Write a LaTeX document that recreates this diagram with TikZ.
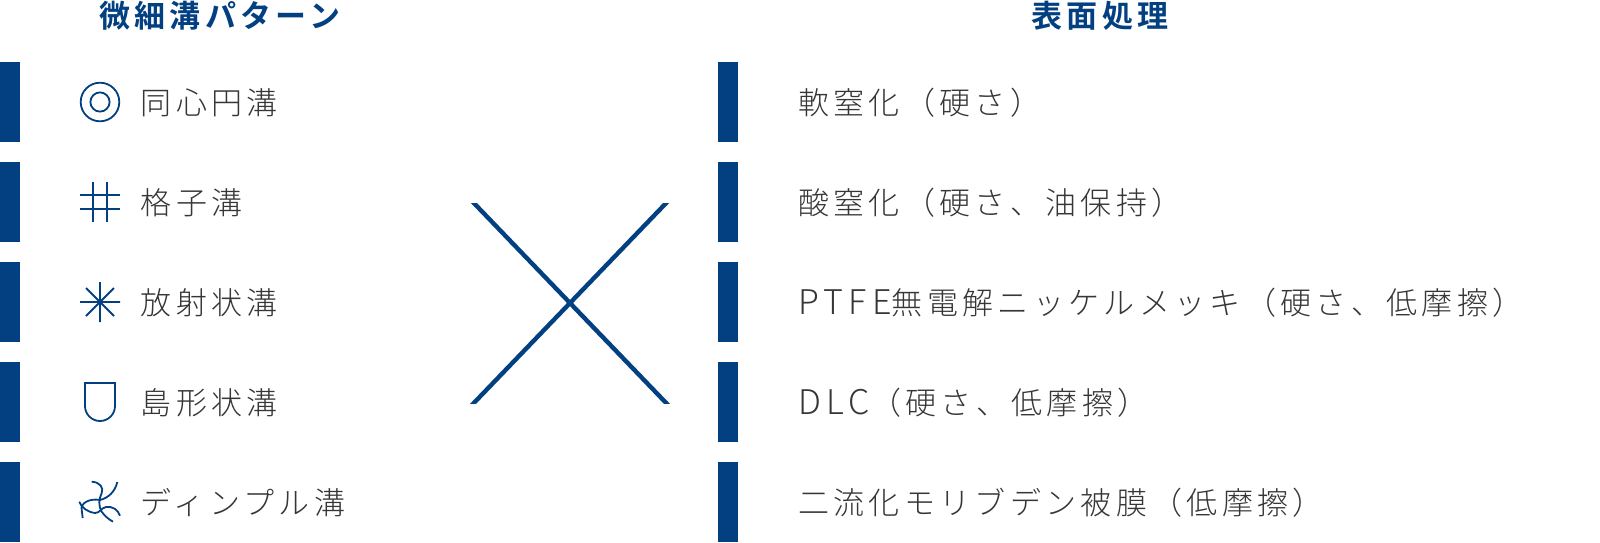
\documentclass[tikz,border=0pt]{standalone}
\usepackage{fontspec}
\setmainfont{Noto Sans CJK JP Light}[LetterSpace=14,BoldFont={Noto Sans CJK JP Bold}]
\newfontfamily\latinwide{Noto Sans CJK JP Light}[LetterSpace=16]
\newcommand{\latintext}[1]{{\latinwide\fontsize{34}{36}\selectfont #1}}
\definecolor{navy}{HTML}{024082}
\definecolor{ink}{HTML}{363636}
\tikzset{
 bar/.style={fill=navy,draw=none},
 label/.style={anchor=west,inner sep=0pt,text=ink,font=\fontsize{31}{33}\selectfont},
 head/.style={anchor=center,inner sep=0pt,text=navy,font=\fontsize{31}{33}\selectfont\bfseries},
 icon/.style={draw=navy,line width=1.8pt,fill=none},
 cross/.style={draw=navy,line width=4.4pt},
}
\begin{document}
\begin{tikzpicture}[x=1pt,y=-1pt]
\useasboundingbox (0,0) rectangle (1600,542);
\foreach \y in {62,162,262,362,462}{
  \fill[bar] (0,\y) rectangle (20,\y+80);
  \fill[bar] (718,\y) rectangle (738,\y+80);
}
\node[head] (h1) at (220,15.5) {微細溝パターン};
\node[head] (h2) at (1100,15.5) {表面処理};
\node[label] (l1) at (140.5,102.5) {同心円溝};
\node[label] (l2) at (140.5,202.5) {格子溝};
\node[label] (l3) at (140.5,302.5) {放射状溝};
\node[label] (l4) at (140.5,402.5) {島形状溝};
\node[label] (l5) at (140.5,502.5) {ディンプル溝};
\node[label] (r1) at (798,102.5) {軟窒化（硬さ）};
\node[label] (r2) at (798,202.5) {酸窒化（硬さ、油保持）};
\node[label] (r3) at (798,302.5) {\latintext{PTFE}無電解ニッケルメッキ（硬さ、低摩擦）};
\node[label] (r4) at (798,402.5) {\latintext{DLC}（硬さ、低摩擦）};
\node[label] (r5) at (798,502.5) {二流化モリブデン被膜（低摩擦）};
% icons
\draw[icon] (100,102) circle (19.3);
\draw[icon] (100,102) circle (9.6);
\draw[icon] (80,195) -- (120,195) (80,209) -- (120,209) (93,182) -- (93,222) (107,182) -- (107,222);
\draw[icon] (80,302) -- (120,302) (100,282) -- (100,322) (86,288) -- (114,316) (86,316) -- (114,288);
\draw[icon] (85,383) -- (115,383) -- (115,406) arc (0:180:15) -- cycle;
\draw[icon] (91.7,481.7) .. controls (100,482) and (104,488) .. (101.7,493) .. controls (99,499) and (98,505) .. (101.7,511.7) .. controls (104,515) and (108,519) .. (113,521.7);
\draw[icon] (117.3,482) .. controls (115,492) and (108,498) .. (100,500) .. controls (90,498) and (80,503) .. (81.7,510) -- (82.7,518);
\draw[icon] (79.3,501.7) .. controls (81,507) and (87,512) .. (95,513) .. controls (100,513) and (101,508) .. (106,507) .. controls (113,506) and (118,510) .. (120,515.7);
% cross
\begin{scope}
\clip (440,203) rectangle (700,403);
\coordinate (a) at (470,199);
\coordinate (b) at (670,407);
\coordinate (c) at (670,199);
\coordinate (d) at (470,407);
\draw[cross] (a) -- (b);
\draw[cross] (c) -- (d);
\end{scope}
\end{tikzpicture}
\end{document}
